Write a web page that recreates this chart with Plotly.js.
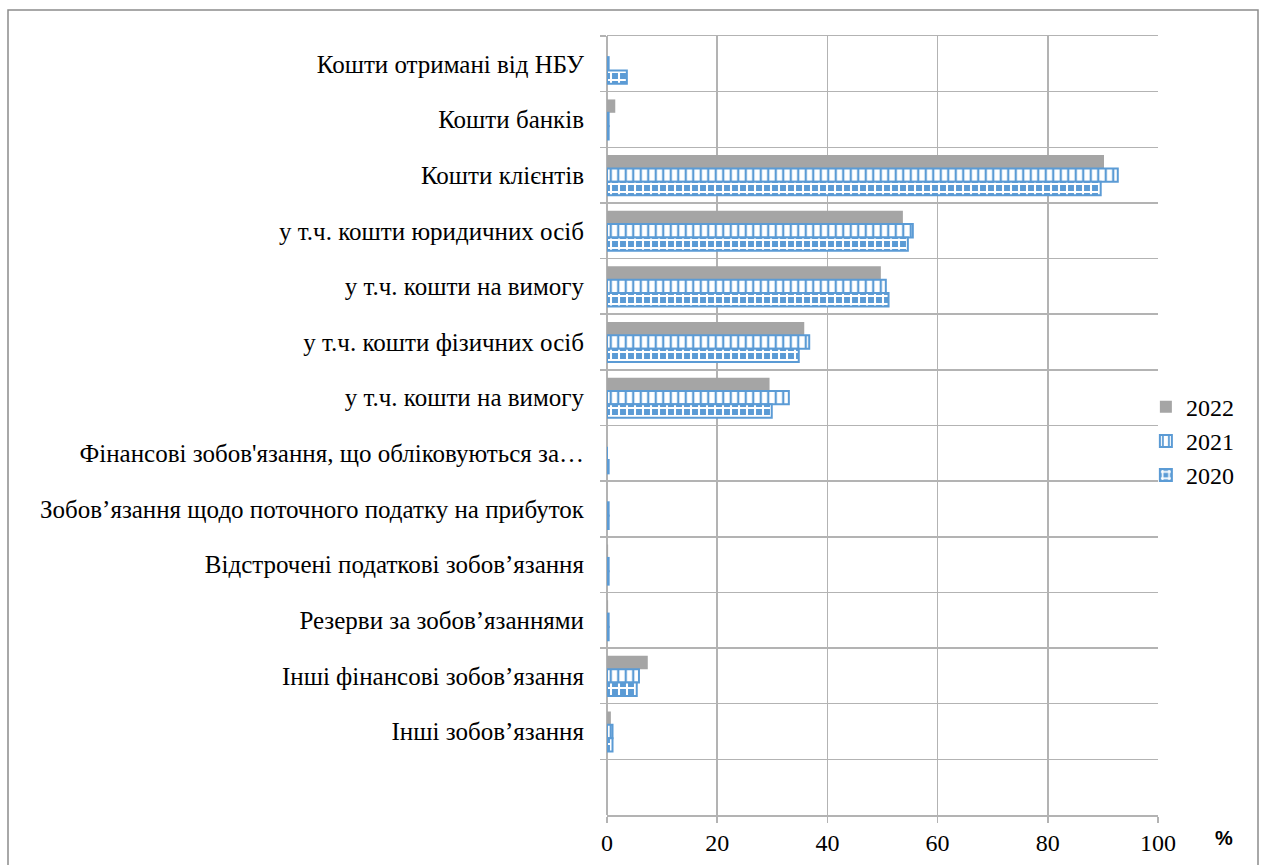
<!DOCTYPE html>
<html>
<head>
<meta charset="utf-8">
<script src="https://cdn.plot.ly/plotly-3.0.1.min.js"></script>
<style>
  html, body { margin: 0; padding: 0; background: #ffffff; font-family: "Liberation Serif", serif; }
  #chart { width: 1267px; height: 865px; }
  #chart svg text { font-family: "Liberation Serif", serif !important; }
  #chart svg text.annotation-text { font-family: "Liberation Sans", sans-serif !important; }
</style>
</head>
<body>
<div id="chart"></div>
<script>
// Liability structure, % of total
const categories = [
  "Кошти отримані від НБУ",
  "Кошти банків",
  "Кошти клієнтів",
  "у т.ч. кошти юридичних осіб",
  "у т.ч. кошти на вимогу",
  "у т.ч. кошти фізичних осіб",
  "у т.ч. кошти на вимогу\u200b",
  "Фінансові зобов'язання, що обліковуються за…",
  "Зобов’язання щодо поточного податку на прибуток",
  "Відстрочені податкові зобов’язання",
  "Резерви за зобов’язаннями",
  "Інші фінансові зобов’язання",
  "Інші зобов’язання",
  " "
];

const values2022 = [0.0, 1.5, 90.2, 53.7, 49.7, 35.8, 29.5, 0.0, 0.0, 0.2, 0.2, 7.4, 0.7, null];
const values2021 = [0.3, 0.3, 92.7, 55.5, 50.6, 36.7, 33.0, 0.0, 0.3, 0.3, 0.3, 5.8, 1.0, null];
const values2020 = [3.6, 0.3, 89.6, 54.6, 51.1, 34.8, 29.9, 0.3, 0.3, 0.3, 0.3, 5.4, 1.0, null];

const seriesNames = ["2022", "2021", "2020"];

const BLUE = "#5b9bd5";
const GREY = "#a5a5a5";
const GRID = "#b3b3b3";
const SERIF = "Liberation Serif";

const traces = [
  {
    name: seriesNames[0],
    x: values2022,
    marker: { color: GREY, line: { width: 0 } }
  },
  {
    name: seriesNames[1],
    x: values2021,
    marker: {
      color: "#ffffff",
      line: { color: BLUE, width: 2 },
      pattern: { shape: "|", fgcolor: BLUE, bgcolor: "#ffffff", size: 7.5, solidity: 0.3 }
    }
  },
  {
    name: seriesNames[2],
    x: values2020,
    marker: {
      color: BLUE,
      line: { color: BLUE, width: 2 },
      pattern: { shape: "+", fgcolor: "#ffffff", bgcolor: BLUE, size: 8, solidity: 0.45 }
    }
  }
].map((t, i) => Object.assign({
  type: "bar",
  orientation: "h",
  y: categories,
  legendgroup: "g" + i,
  hoverinfo: "x+y+name"
}, t));

const layout = {
  width: 1267,
  height: 865,
  paper_bgcolor: "#ffffff",
  plot_bgcolor: "#ffffff",
  margin: { l: 607, r: 109, t: 36, b: 50 },
  barmode: "group",
  bargap: 0.28,
  bargroupgap: 0,
  font: { family: SERIF, size: 24, color: "#000000" },
  showlegend: true,
  legend: {
    x: 0.978,
    xanchor: "left",
    y: 0.48,
    yanchor: "middle",
    traceorder: "normal",
    tracegroupgap: 22,
    font: { family: SERIF, size: 24, color: "#000000" },
    bgcolor: "rgba(0,0,0,0)"
  },
  xaxis: {
    range: [0, 100],
    dtick: 20,
    tick0: 0,
    showgrid: true,
    gridcolor: GRID,
    gridwidth: 1.5,
    zeroline: true,
    zerolinecolor: GRID,
    zerolinewidth: 1.5,
    ticks: "outside",
    ticklen: 6,
    tickcolor: GRID,
    tickwidth: 1.5,
    showline: true,
    mirror: true,
    linecolor: GRID,
    linewidth: 1.5,
    tickfont: { family: SERIF, size: 24, color: "#000000" },
    fixedrange: true
  },
  yaxis: {
    type: "category",
    categoryorder: "array",
    categoryarray: categories,
    range: [categories.length - 0.5, -0.5],
    tickson: "boundaries",
    ticks: "outside",
    ticklen: 6,
    tickcolor: GRID,
    tickwidth: 1.5,
    showgrid: true,
    gridcolor: GRID,
    gridwidth: 1.5,
    showline: false,
    ticklabelstandoff: 22,
    tickfont: { family: SERIF, size: 25, color: "#000000" },
    fixedrange: true
  },
  shapes: [
    {
      type: "rect",
      xref: "paper", yref: "paper",
      x0: (8 - 607) / 551, x1: (1258 - 607) / 551,
      y0: -0.08, y1: (815 - 10) / 779,
      line: { color: "#8c8c8c", width: 1.5 },
      fillcolor: "rgba(0,0,0,0)",
      layer: "below"
    }
  ],
  annotations: [
    {
      text: "<b>%</b>",
      xref: "paper", yref: "paper",
      x: 1.12, y: -0.03,
      xanchor: "center", yanchor: "middle",
      showarrow: false,
      font: { family: "Liberation Sans", size: 20, color: "#000000" }
    }
  ]
};

Plotly.newPlot("chart", traces, layout, { displayModeBar: false, staticPlot: true });
</script>
</body>
</html>
